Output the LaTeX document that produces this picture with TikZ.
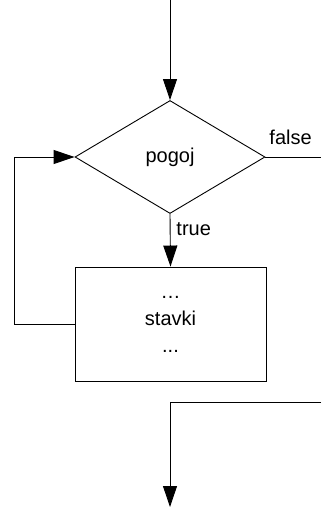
\documentclass[tikz,border=0pt]{standalone}
\usepackage{fontspec}
\setmainfont{Liberation Sans}
\usetikzlibrary{arrows.meta, shapes.geometric}

\begin{document}
\begin{tikzpicture}[x=1pt, y=-1pt,
    every node/.style={font=\fontsize{20}{27}\selectfont},
    arr/.style={-{Triangle[length=21pt,width=14pt]}},
    line width=0.9pt]
                    \useasboundingbox (0,0) rectangle (321,508);
                    \node[draw, diamond, aspect=1.68, inner sep=0pt, minimum width=190pt, minimum height=113pt] (pogoj) at (170,157) {pogoj};
                    \node[draw, rectangle, inner sep=0pt, minimum width=191pt, minimum height=114pt, align=center] (stavki) at (170.5,324) {…\\stavki\\...};
                    \node[anchor=base west, inner sep=0pt] (false) at (269,144) {false};
                    \node[anchor=west, inner sep=0pt] (true) at (176,229) {true};
                    \coordinate (start) at (170,0);
                    \coordinate (exitA) at (321,157);
                    \coordinate (loop) at (14,324);
                    \coordinate (exitB) at (321,402);
                    \coordinate (end) at (170,507);

                    \draw[arr] (start) -- (pogoj.north);
                    \draw (pogoj.east) -- (exitA);
                    \draw[arr] (pogoj.south) -- (stavki.north);
                    \draw[arr] (stavki.west) -- (loop) |- (pogoj.west);
                    \draw[arr] (exitB) -| (end);
                \end{tikzpicture}
\end{document}
